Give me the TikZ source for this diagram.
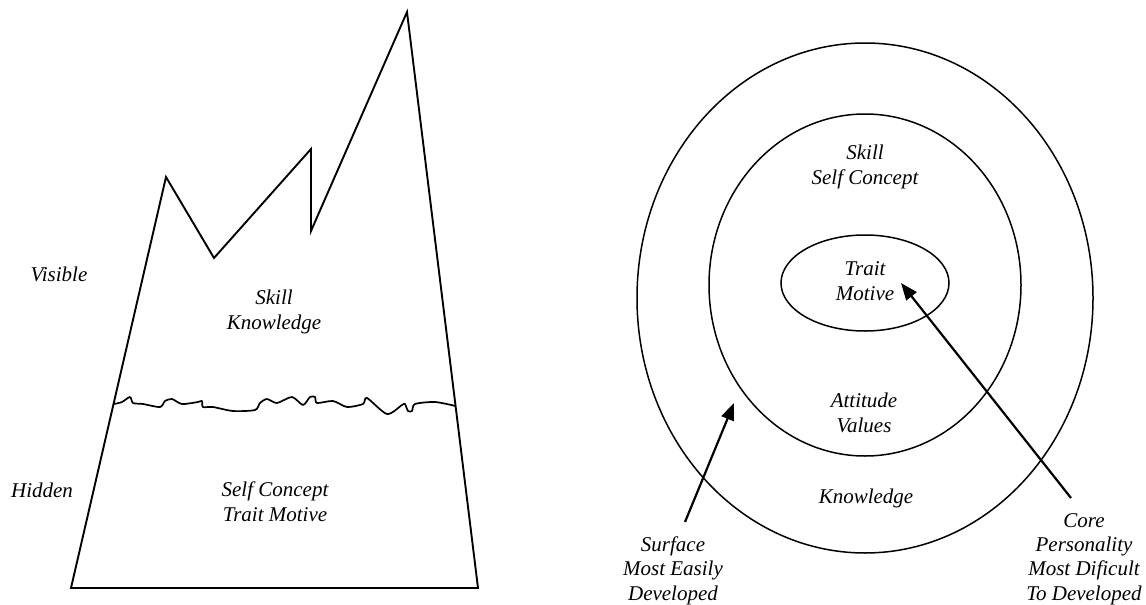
\documentclass[tikz,border=0pt]{standalone}
\usepackage{fontspec}
\setmainfont{Liberation Serif}
\usetikzlibrary{arrows.meta}
\begin{document}
\begin{tikzpicture}[x=1pt,y=-1pt,
  outline/.style={line width=1.9pt, line join=miter},
  ring/.style={line width=1.5pt},
  pointer/.style={line width=2.2pt, -{Triangle[length=17pt,width=13pt]}},
  lbl/.style={font=\fontsize{21}{24.3}\selectfont\itshape, align=center, inner sep=0pt, anchor=base}
]
\useasboundingbox (0,0) rectangle (1146,605);
% iceberg
\draw[outline] (71,588) -- (166,177) -- (214,258) -- (311,149) -- (311,231) -- (407,12) -- (478,588) -- cycle;
% water line
\draw[line width=1.7pt, line join=round] plot[smooth, tension=0.45] coordinates {
 (114,404) (122,402) (130,397) (133,403) (143,404) (160,407) (165,401) (172,399) (182,404)
 (198,402) (202,401) (203,407) (213,407) (233,411) (255,410) (260,403) (267,399) (277,403)
 (292,397) (303,405) (310,397) (315,397) (317,403) (333,401) (347,407) (363,404) (367,398)
 (387,414) (402,405) (405,404) (408,411) (412,411) (415,404) (435,402) (455.5,406)};
% labels (anchored at the baseline of the last line)
\node[lbl] (visible) at (59,281) {Visible};
\node[lbl] (hidden) at (42,497) {Hidden};
\node[lbl] (above) at (274,329) {Skill\\Knowledge};
\node[lbl] (below) at (275,521) {Self Concept\\Trait Motive};
% circles
\draw[ring] (865,298) ellipse [x radius=228, y radius=255];
\draw[ring] (865,285) ellipse [x radius=156, y radius=171];
\draw[ring] (865,283) ellipse [x radius=84, y radius=48];
\node[lbl] (midtop) at (865,184) {Skill\\Self Concept};
\node[lbl] (core) at (865,300) {Trait\\Motive};
\node[lbl] (midbot) at (864,432) {Attitude\\Values};
\node[lbl] (outer) at (866,503) {Knowledge};
\node[lbl] (surface) at (673,600) {Surface\\Most Easily\\Developed};
\node[lbl] (corelbl) at (1084,600) {Core\\Personality\\Most Dificult\\To Developed};
\coordinate (sTail) at (685,522);
\coordinate (sHead) at (734,403);
\coordinate (cTail) at (1071,498);
\coordinate (cHead) at (901,283);
\draw[pointer] (sTail) -- (sHead);
\draw[pointer] (cTail) -- (cHead);
\end{tikzpicture}
\end{document}
